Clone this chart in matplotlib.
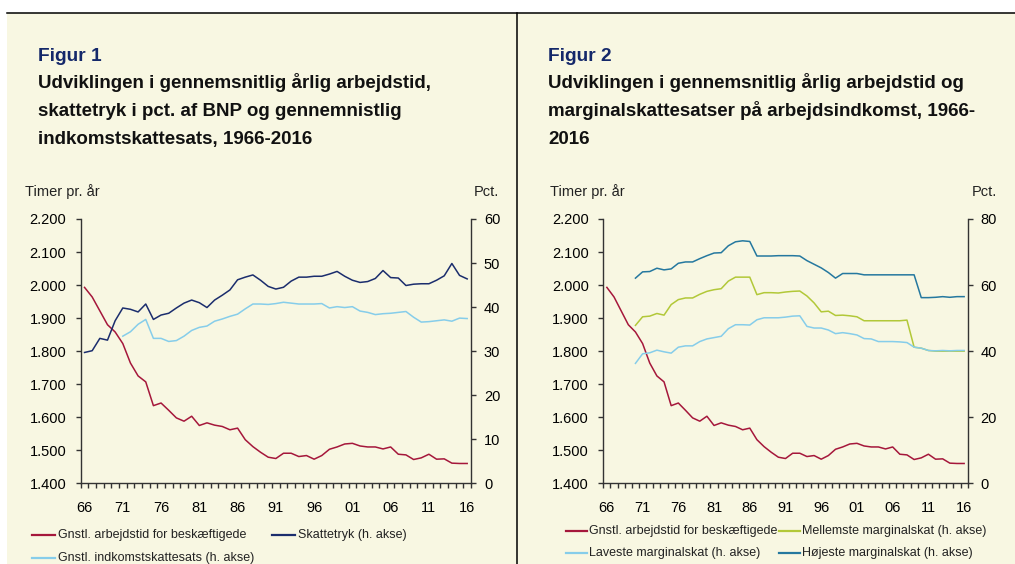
import matplotlib
matplotlib.use('Agg')
import matplotlib.pyplot as plt
from matplotlib.lines import Line2D
from matplotlib.patches import Rectangle
from matplotlib.ticker import FuncFormatter, MultipleLocator

plt.rcParams['font.family'] = ['Liberation Sans', 'DejaVu Sans']

# --- data ---
years = list(range(1966, 2017))
hours = [1993, 1964, 1922, 1880, 1858, 1823, 1764, 1725, 1707, 1635,
         1643, 1621, 1598, 1588, 1603, 1575, 1583, 1576, 1572, 1562,
         1567, 1532, 1511, 1494, 1479, 1475, 1491, 1491, 1481, 1484,
         1473, 1484, 1503, 1510, 1519, 1521, 1513, 1510, 1510, 1504,
         1510, 1488, 1486, 1472, 1477, 1488, 1473, 1474, 1461, 1460,
         1460]
skattetryk = [29.7, 30.1, 32.9, 32.5, 36.9, 39.8, 39.5, 38.9, 40.7, 37.2,
              38.2, 38.6, 39.8, 40.9, 41.6, 41.0, 39.9, 41.6, 42.7, 43.9,
              46.2, 46.8, 47.3, 46.1, 44.7, 44.1, 44.5, 45.9, 46.8, 46.8,
              47.0, 47.0, 47.5, 48.1, 47.0, 46.1, 45.6, 45.8, 46.5, 48.3,
              46.7, 46.6, 44.9, 45.2, 45.3, 45.3, 46.1, 47.1, 49.9, 47.2,
              46.4]

income_years = list(range(1971, 2017))
indkomstskat = [33.4, 34.4, 36.1, 37.2, 32.9, 32.9, 32.2, 32.4, 33.4, 34.7,
                35.4, 35.7, 36.8, 37.3, 37.9, 38.4, 39.6, 40.7, 40.7, 40.6,
                40.8, 41.1, 40.9, 40.7, 40.7, 40.7, 40.8, 39.8, 40.1, 39.9,
                40.1, 39.1, 38.8, 38.3, 38.5, 38.6, 38.8, 39.0, 37.7, 36.6,
                36.7, 36.9, 37.1, 36.8, 37.5, 37.4]

marg_years = list(range(1970, 2017))
hojeste = [62.1, 64.0, 64.1, 65.1, 64.6, 64.9, 66.6, 67.0, 67.0, 68.0,
           68.9, 69.7, 69.8, 71.9, 73.1, 73.4, 73.2, 68.8, 68.8, 68.8,
           68.9, 68.9, 68.9, 68.8, 67.4, 66.3, 65.2, 63.8, 62.1, 63.5,
           63.5, 63.5, 63.1, 63.1, 63.1, 63.1, 63.1, 63.1, 63.1, 63.1,
           56.2, 56.2, 56.3, 56.5, 56.3, 56.5, 56.5]
mellemste = [47.8, 50.4, 50.6, 51.4, 50.9, 54.1, 55.6, 56.1, 56.1, 57.2,
             58.1, 58.6, 58.9, 61.2, 62.4, 62.4, 62.4, 57.1, 57.7, 57.7,
             57.6, 57.9, 58.1, 58.2, 56.7, 54.6, 51.9, 52.1, 50.8, 50.9,
             50.7, 50.4, 49.2, 49.2, 49.2, 49.2, 49.2, 49.2, 49.4, 41.2,
             40.9, 40.2, 40.0, 40.0, 40.0, 40.0, 40.0]
laveste = [36.3, 39.2, 39.5, 40.3, 39.8, 39.4, 41.2, 41.6, 41.6, 42.9,
           43.7, 44.1, 44.5, 46.8, 48.0, 48.0, 47.9, 49.5, 50.1, 50.1,
           50.1, 50.3, 50.6, 50.7, 47.5, 47.0, 47.0, 46.4, 45.3, 45.6,
           45.3, 44.9, 43.8, 43.7, 42.9, 42.9, 42.9, 42.8, 42.6, 41.2,
           40.9, 40.2, 40.1, 40.2, 40.1, 40.2, 40.2]

RED = '#a5173b'
NAVY = '#1b2d6d'
LIGHTBLUE = '#86cdea'
TEAL = '#25789f'
GREEN = '#b2c838'
CREAM = '#f8f7e2'
TITLE_BLUE = '#14286a'
SPINE = '#333333'

W, H = 1015, 564
fig = plt.figure(figsize=(W / 100, H / 100), dpi=100)
fig.patch.set_facecolor('white')


def fx(x):
    return x / W


def fy(y):
    return 1 - y / H


# background panels and frame lines
fig.patches.append(Rectangle((fx(7), 0), 1 - fx(7), fy(12.5), transform=fig.transFigure,
                             facecolor=CREAM, edgecolor='none', zorder=-5))
fig.add_artist(Line2D([fx(7), 1], [fy(12.5), fy(12.5)], color='black', lw=1.1))
fig.add_artist(Line2D([fx(517), fx(517)], [0, fy(12.5)], color='black', lw=1.1))


def style_axes(ax, axr, rmax, rstep):
    ax.set_facecolor('none')
    ax.set_xlim(1965.5, 2016.5)
    ax.set_ylim(1400, 2200)
    ax.yaxis.set_major_locator(MultipleLocator(100))
    ax.yaxis.set_major_formatter(FuncFormatter(lambda v, p: f'{int(v):,}'.replace(',', '.')))
    ax.set_xticks(list(range(1966, 2017, 5)))
    ax.set_xticklabels([f'{y % 100:02d}' for y in range(1966, 2017, 5)])
    ax.set_xticks([y - 0.5 for y in range(1966, 2018)], minor=True)
    ax.tick_params(axis='x', which='major', length=0, pad=13, labelsize=10.5)
    ax.tick_params(axis='x', which='minor', length=3.3, width=1, color=SPINE, direction='out')
    ax.tick_params(axis='y', length=3.3, width=1, color=SPINE, pad=7, labelsize=10.5)
    axr.set_ylim(0, rmax)
    axr.yaxis.set_major_locator(MultipleLocator(rstep))
    axr.tick_params(axis='y', length=3.3, width=1, color=SPINE, pad=6, labelsize=10.5)
    for a in (ax, axr):
        a.spines['top'].set_visible(False)
        for s in ('left', 'right', 'bottom'):
            a.spines[s].set_color(SPINE)
            a.spines[s].set_linewidth(1.0)
    axr.spines['left'].set_visible(False)
    axr.spines['bottom'].set_visible(False)
    ax.spines['right'].set_visible(False)


def legend_entry(x, y, color, label, length=23, gap=3):
    fig.add_artist(Line2D([fx(x), fx(x + length)], [fy(y), fy(y)], color=color, lw=1.6))
    fig.text(fx(x + length + gap), fy(y), label, fontsize=9, va='center', color='#222222')


# ---------------- Figur 1 ----------------
ax1 = fig.add_axes([fx(80.7), fy(483.3), fx(471 - 80.7), (483.3 - 219) / H])
ax1r = ax1.twinx()
style_axes(ax1, ax1r, 60, 10)
ax1.plot(years, hours, color=RED, lw=1.1)
ax1r.plot(years, skattetryk, color=NAVY, lw=1.1)
ax1r.plot(income_years, indkomstskat, color=LIGHTBLUE, lw=1.1)

fig.text(fx(38), fy(61), 'Figur 1', fontsize=13.8, weight='bold', color=TITLE_BLUE, va='baseline')
for i, line in enumerate(['Udviklingen i gennemsnitlig årlig arbejdstid,',
                          'skattetryk i pct. af BNP og gennemnistlig',
                          'indkomstskattesats, 1966-2016']):
    fig.text(fx(38), fy(88 + 28 * i), line, fontsize=13.5, weight='bold', color='#111111', va='baseline')
fig.text(fx(25), fy(192), 'Timer pr. år', fontsize=10.5, va='center', color='#222222')
fig.text(fx(499), fy(192), 'Pct.', fontsize=10.5, va='center', ha='right', color='#222222')

legend_entry(32, 535, RED, 'Gnstl. arbejdstid for beskæftigede')
legend_entry(272, 535, NAVY, 'Skattetryk (h. akse)')
legend_entry(32, 558, LIGHTBLUE, 'Gnstl. indkomstskattesats (h. akse)')

# ---------------- Figur 2 ----------------
ax2 = fig.add_axes([fx(603.3), fy(483.3), fx(967.7 - 603.3), (483.3 - 219) / H])
ax2r = ax2.twinx()
style_axes(ax2, ax2r, 80, 20)
ax2.plot(years, hours, color=RED, lw=1.1)
ax2r.plot(marg_years, mellemste, color=GREEN, lw=1.1)
ax2r.plot(marg_years, laveste, color=LIGHTBLUE, lw=1.1)
ax2r.plot(marg_years, hojeste, color=TEAL, lw=1.1)

fig.text(fx(548), fy(61), 'Figur 2', fontsize=13.8, weight='bold', color=TITLE_BLUE, va='baseline')
for i, line in enumerate(['Udviklingen i gennemsnitlig årlig arbejdstid og',
                          'marginalskattesatser på arbejdsindkomst, 1966-',
                          '2016']):
    fig.text(fx(548), fy(88 + 28 * i), line, fontsize=13.5, weight='bold', color='#111111', va='baseline')
fig.text(fx(550), fy(192), 'Timer pr. år', fontsize=10.5, va='center', color='#222222')
fig.text(fx(997), fy(192), 'Pct.', fontsize=10.5, va='center', ha='right', color='#222222')

legend_entry(566, 531, RED, 'Gnstl. arbejdstid for beskæftigede', length=21, gap=2)
legend_entry(779, 531, GREEN, 'Mellemste marginalskat (h. akse)', length=21, gap=2)
legend_entry(566, 553, LIGHTBLUE, 'Laveste marginalskat (h. akse)', length=21, gap=2)
legend_entry(779, 553, TEAL, 'Højeste marginalskat (h. akse)', length=21, gap=2)

fig.savefig('out.png', dpi=100)
